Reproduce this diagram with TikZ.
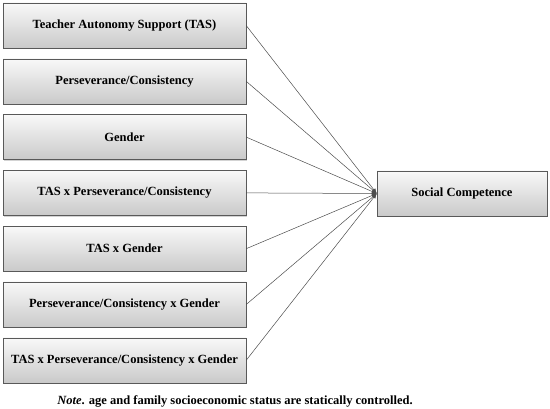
\documentclass[tikz,border=0pt]{standalone}
\usepackage{fontspec}
\setmainfont{Liberation Serif}
\usetikzlibrary{positioning,shadows,arrows.meta}

\begin{document}
\begin{tikzpicture}[
    x=1pt, y=-1pt,
    var/.style={draw=black!65, top color=gray!5, bottom color=gray!42,
        minimum height=45pt, inner sep=0pt,
        font=\bfseries\fontsize{12.5}{14}\selectfont,
        drop shadow={shadow xshift=1.2pt, shadow yshift=-1.2pt, opacity=0.35}}, % Style for the shaded boxes
    link/.style={draw=black!70, line width=0.5pt, -{Latex[length=5pt,width=4pt]}}
]
    \useasboundingbox (0,0) rectangle (550,409);

    % --- PREDICTORS (left column) ---
    \foreach \name/\txt [count=\i] in {
        tas/{Teacher Autonomy Support (TAS)},
        pc/{Perseverance/Consistency},
        gen/{Gender},
        taspc/{TAS x Perseverance/Consistency},
        tasgen/{TAS x Gender},
        pcgen/{Perseverance/Consistency x Gender},
        all/{TAS x Perseverance/Consistency x Gender}}
    {
        \node[var, minimum width=243pt] (\name) at (124.5, {25.5+55.8*(\i-1)}) {\txt};
    }

    % --- OUTCOME ---
    \node[var, minimum width=170pt] (sc) at (462, 193.5) {Social Competence};

    % Paths into the outcome
    \foreach \name in {tas,pc,gen,taspc,tasgen,pcgen,all}
        \draw[link] (\name.east) -- (sc.west);

    % Note below
    \node[font=\bfseries\fontsize{12.5}{14}\selectfont] (note) at (235, 401)
        {\textit{Note}. age and family socioeconomic status are statically controlled.};

\end{tikzpicture}
\end{document}
